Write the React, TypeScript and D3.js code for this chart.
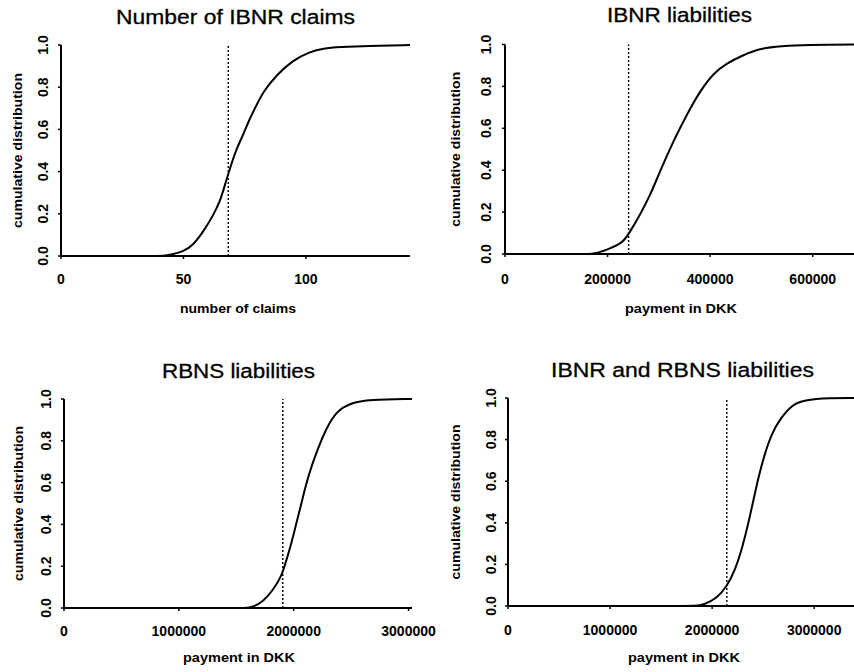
import React, { useRef, useEffect } from 'react';
import * as d3 from 'd3';

// (cumulative distributions of simulated reserves)
const claimsX = [0, 38, 42, 44.5, 49.9, 54, 58.1, 62.2, 64.9, 66.9, 69, 71.7, 74.4, 77.1, 79.9, 82.6, 88, 94.8, 101.6, 107, 113.9, 125, 142.5];
const claimsCdf = [0, 0, 0, 0.005, 0.02, 0.052, 0.115, 0.194, 0.257, 0.336, 0.416, 0.51, 0.574, 0.653, 0.716, 0.779, 0.858, 0.929, 0.968, 0.984, 0.99, 0.996, 1.0];

const ibnrX = [0, 140000, 165000, 179000, 205000, 228000, 241000, 263000, 283000, 302000, 322000, 341000, 361000, 380000, 406000, 432000, 465000, 498000, 540000, 583000, 700000];
const ibnrCdf = [0, 0, 0, 0.003, 0.027, 0.051, 0.094, 0.186, 0.28, 0.393, 0.505, 0.6, 0.695, 0.775, 0.862, 0.91, 0.95, 0.982, 0.992, 0.998, 1.0];

const rbnsX = [0, 1450000, 1580000, 1640000, 1733000, 1820000, 1893000, 1937000, 1980000, 2023000, 2067000, 2110000, 2154000, 2211000, 2284000, 2371000, 2487000, 2660000, 3030000];
const rbnsCdf = [0, 0, 0, 0.003, 0.03, 0.086, 0.15, 0.23, 0.31, 0.405, 0.5, 0.597, 0.676, 0.764, 0.86, 0.94, 0.98, 0.997, 1.0];

const totalX = [0, 1700000, 1840000, 1915000, 2046000, 2144000, 2225000, 2290000, 2356000, 2405000, 2454000, 2520000, 2585000, 2667000, 2781000, 2895000, 3157000, 3390000];
const totalCdf = [0, 0, 0, 0.005, 0.037, 0.093, 0.173, 0.27, 0.40, 0.51, 0.62, 0.74, 0.83, 0.90, 0.966, 0.99, 1.0, 1.0];

// dotted reference lines
const markers = [68.3, 241000, 1905000, 2144000];

const claimsTicks = [0, 50, 100];
const ibnrTicks = [0, 200000, 400000, 600000];
const rbnsTicks = [0, 1000000, 2000000, 3000000];
const totalTicks = [0, 1000000, 2000000, 3000000];
const cdfTicks = [0, 0.2, 0.4, 0.6, 0.8, 1.0];

const titles = ["Number of IBNR claims", "IBNR liabilities", "RBNS liabilities", "IBNR and RBNS liabilities"];
const xTitles = ["number of claims", "payment in DKK", "payment in DKK", "payment in DKK"];
const yTitle = "cumulative distribution";

// layout of each panel (pixels)
const panels = [
  { xs: claimsX, ys: claimsCdf, ticks: claimsTicks, marker: markers[0], dom: [0, 142.5], x0: 61, x1: 410, y0: 256, y1: 45,
    title: { x: 235.5, y: 24, w: 239 }, xlab: { x: 238, y: 313, w: 116 }, xTickY: 284, yTickX: 48, yTitleX: 22 },
  { xs: ibnrX, ys: ibnrCdf, ticks: ibnrTicks, marker: markers[1], dom: [0, 700000], x0: 505, x1: 864, y0: 254, y1: 44.5,
    title: { x: 679.5, y: 22, w: 145 }, xlab: { x: 681, y: 313, w: 112 }, xTickY: 284, yTickX: 491, yTitleX: 460 },
  { xs: rbnsX, ys: rbnsCdf, ticks: rbnsTicks, marker: markers[2], dom: [0, 3030000], x0: 64, x1: 412, y0: 608, y1: 399,
    title: { x: 238.5, y: 378, w: 153 }, xlab: { x: 239, y: 662, w: 112 }, xTickY: 636, yTickX: 51, yTitleX: 23 },
  { xs: totalX, ys: totalCdf, ticks: totalTicks, marker: markers[3], dom: [0, 3390000], x0: 508, x1: 854, y0: 606, y1: 398,
    title: { x: 682.5, y: 377, w: 263 }, xlab: { x: 684, y: 662, w: 112 }, xTickY: 635, yTickX: 496, yTitleX: 460 },
];

const CdfPanels = ({ width = 854, height = 672 }) => {
  const svgRef = useRef(null);

  useEffect(() => {
    const svg = d3.select(svgRef.current);
    svg.selectAll("*").remove();
    svg.style("font-family", "'Liberation Sans', Arial, sans-serif");

    panels.forEach((p, i) => {
      const x = d3.scaleLinear().domain(p.dom).range([p.x0, p.x1]);
      const y = d3.scaleLinear().domain([0, 1]).range([p.y0, p.y1]);
      const g = svg.append("g");

      // title
      g.append("text")
        .attr("x", p.title.x)
        .attr("y", p.title.y)
        .attr("text-anchor", "middle")
        .attr("textLength", p.title.w)
        .attr("lengthAdjust", "spacingAndGlyphs")
        .style("font-size", "20px")
        .style("fill", "#000")
        .style("stroke", "#000")
        .style("stroke-width", 0.3)
        .text(titles[i]);

      // axis lines
      g.append("line")
        .attr("x1", x(0)).attr("x2", x(0))
        .attr("y1", y(0)).attr("y2", y(1))
        .style("stroke", "#000").style("stroke-width", 2);
      g.append("line")
        .attr("x1", x(0)).attr("x2", x(p.dom[1]))
        .attr("y1", y(0)).attr("y2", y(0))
        .style("stroke", "#000").style("stroke-width", 2);

      // small ticks
      g.selectAll(".yt").data(cdfTicks).enter().append("line")
        .attr("x1", x(0) - 3).attr("x2", x(0))
        .attr("y1", d => y(d)).attr("y2", d => y(d))
        .style("stroke", "#000").style("stroke-width", 1.5);
      g.selectAll(".xt").data(p.ticks).enter().append("line")
        .attr("x1", d => x(d)).attr("x2", d => x(d))
        .attr("y1", y(0)).attr("y2", y(0) + 3)
        .style("stroke", "#000").style("stroke-width", 1.5);

      // tick labels
      g.selectAll(".xl").data(p.ticks).enter().append("text")
        .attr("x", d => x(d))
        .attr("y", p.xTickY)
        .attr("text-anchor", "middle")
        .style("font-size", "14px")
        .style("font-weight", "bold")
        .text(d => d3.format("d")(d));

      g.selectAll(".yl").data(cdfTicks).enter().append("text")
        .attr("transform", d => `translate(${p.yTickX},${y(d)}) rotate(-90)`)
        .attr("text-anchor", "middle")
        .style("font-size", "14px")
        .style("font-weight", "bold")
        .text(d => d3.format(".1f")(d));

      // axis titles
      g.append("text")
        .attr("x", p.xlab.x)
        .attr("y", p.xlab.y)
        .attr("text-anchor", "middle")
        .attr("textLength", p.xlab.w)
        .attr("lengthAdjust", "spacingAndGlyphs")
        .style("font-size", "13px")
        .style("font-weight", "bold")
        .text(xTitles[i]);

      g.append("text")
        .attr("transform", `translate(${p.yTitleX},${(p.y0 + p.y1) / 2}) rotate(-90)`)
        .attr("text-anchor", "middle")
        .attr("textLength", 155)
        .attr("lengthAdjust", "spacingAndGlyphs")
        .style("font-size", "13px")
        .style("font-weight", "bold")
        .text(yTitle);

      // dotted marker
      g.append("line")
        .attr("x1", x(p.marker)).attr("x2", x(p.marker))
        .attr("y1", y(0)).attr("y2", y(1))
        .style("stroke", "#000")
        .style("stroke-width", 1.4)
        .style("stroke-dasharray", "2,2");

      // cdf curve
      const line = d3.line()
        .x(d => x(d[0]))
        .y(d => y(d[1]))
        .curve(d3.curveBasis);

      g.append("path")
        .datum(d3.zip(p.xs, p.ys))
        .attr("d", line)
        .style("fill", "none")
        .style("stroke", "#000")
        .style("stroke-width", 2);
    });
  }, [width, height]);

  return (
    <svg ref={svgRef} width={width} height={height}
      style={{ position: "absolute", left: 0, top: 0, background: "white" }}></svg>
  );
};

export default function App() {
  return <CdfPanels />;
}
